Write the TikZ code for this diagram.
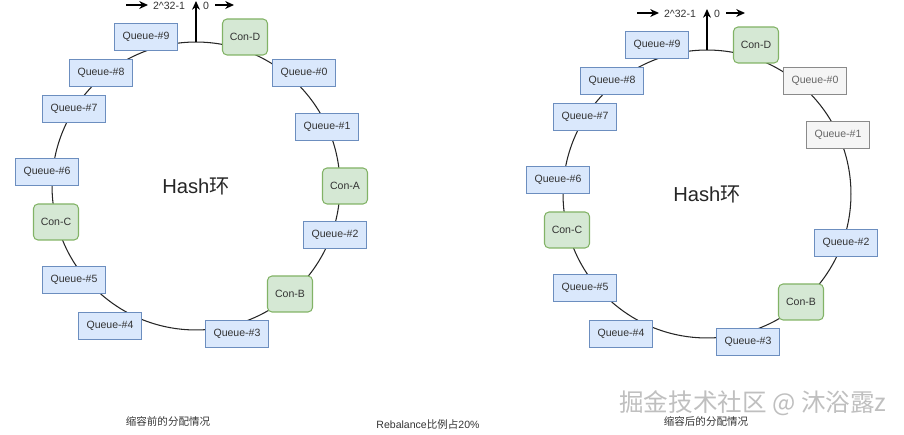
\documentclass[tikz,border=0pt]{standalone}
\usepackage{fontspec}
\setmainfont{Liberation Sans}
\newfontfamily\cjk{Noto Sans CJK SC}
\usetikzlibrary{arrows.meta}

\definecolor{queuefill}{HTML}{DAE8FC}
\definecolor{queueline}{HTML}{6C8EBF}
\definecolor{confill}{HTML}{D5E8D4}
\definecolor{conline}{HTML}{82B366}
\definecolor{oldfill}{HTML}{F5F5F5}
\definecolor{oldline}{HTML}{8A8A8A}

\begin{document}
\begin{tikzpicture}[x=0.02cm,y=-0.02cm,
	queue/.style={draw=queueline, fill=queuefill, line width=0.6pt, minimum width=1.26cm, minimum height=0.54cm, inner sep=0pt, text=black!80, font=\fontsize{6}{7}\selectfont},
	con/.style={queue, draw=conline, fill=confill, rounded corners=0.09cm, minimum width=0.9cm, minimum height=0.72cm},
	gone/.style={queue, draw=oldline, fill=oldfill, text=black!60},
	ring/.style={draw=black!85, line width=0.6pt},
	axis/.style={-{Stealth[length=5pt,width=4.5pt]}, line width=0.7pt},
	note/.style={text=black!80, font=\fontsize{6}{7}\selectfont}]

	\useasboundingbox (0,0) rectangle (904,435);

	% before scale-in
	\draw[ring] (196,186) circle [radius=2.88cm];
	\coordinate (top) at (196,42);
	\coordinate (up) at (196,1);
	\coordinate (lA) at (126,5);
	\coordinate (lB) at (148,5);
	\coordinate (rA) at (215,5);
	\coordinate (rB) at (234,5);
	\draw[axis] (top) -- (up);
	\draw[axis] (lA) -- (lB);
	\draw[axis] (rA) -- (rB);
	\node[note] (max) at (169,6) {2\textasciicircum{}32-1};
	\node[note] (zero) at (206,6) {0};

	\node[queue] (q9) at (146,37) {Queue-\#9};
	\node[con]   (cD) at (245,37) {Con-D};
	\node[queue] (q0) at (304,73) {Queue-\#0};
	\node[queue] (q8) at (101,73) {Queue-\#8};
	\node[queue] (q7) at (74,109) {Queue-\#7};
	\node[queue] (q1) at (327,127) {Queue-\#1};
	\node[queue] (q6) at (47,172) {Queue-\#6};
	\node[con]   (cA) at (345,186) {Con-A};
	\node[con]   (cC) at (56,222) {Con-C};
	\node[queue] (q2) at (335,235) {Queue-\#2};
	\node[queue] (q5) at (74,280) {Queue-\#5};
	\node[con]   (cB) at (290,294) {Con-B};
	\node[queue] (q4) at (110,326) {Queue-\#4};
	\node[queue] (q3) at (237,334) {Queue-\#3};

	\node[text=black!85, font=\fontsize{11.5}{13}\selectfont] (hash) at (196,186) {Hash{\cjk 环}};
	\node[note] (before) at (168,421) {\cjk 缩容前的分配情况};

	\node[note] (ratio) at (428,425) {Rebalance{\cjk 比例占}20\%};

	% after scale-in
	\begin{scope}[shift={(511,8)}]
		\draw[ring] (196,186) circle [radius=2.88cm];
		\coordinate (Rtop) at (196,42);
		\coordinate (Rup) at (196,1);
		\coordinate (RlA) at (126,5);
		\coordinate (RlB) at (148,5);
		\coordinate (RrA) at (215,5);
		\coordinate (RrB) at (234,5);
		\draw[axis] (Rtop) -- (Rup);
		\draw[axis] (RlA) -- (RlB);
		\draw[axis] (RrA) -- (RrB);
		\node[note] (Rmax) at (169,6) {2\textasciicircum{}32-1};
		\node[note] (Rzero) at (206,6) {0};

		\node[queue] (Rq9) at (146,37) {Queue-\#9};
		\node[con]   (RcD) at (245,37) {Con-D};
		\node[gone]  (Rq0) at (304,73) {Queue-\#0};
		\node[queue] (Rq8) at (101,73) {Queue-\#8};
		\node[queue] (Rq7) at (74,109) {Queue-\#7};
		\node[gone]  (Rq1) at (327,127) {Queue-\#1};
		\node[queue] (Rq6) at (47,172) {Queue-\#6};
		\node[con]   (RcC) at (56,222) {Con-C};
		\node[queue] (Rq2) at (335,235) {Queue-\#2};
		\node[queue] (Rq5) at (74,280) {Queue-\#5};
		\node[con]   (RcB) at (290,294) {Con-B};
		\node[queue] (Rq4) at (110,326) {Queue-\#4};
		\node[queue] (Rq3) at (237,334) {Queue-\#3};

		\node[text=black!85, font=\fontsize{11.5}{13}\selectfont] (Rhash) at (196,186) {Hash{\cjk 环}};
		\node[note] (after) at (195,413) {\cjk 缩容后的分配情况};
	\end{scope}

	\node[text=gray!50, font=\cjk\fontsize{14}{16}\selectfont] (mark) at (753,403) {掘金技术社区 @ 沐浴露z};

\end{tikzpicture}
\end{document}
